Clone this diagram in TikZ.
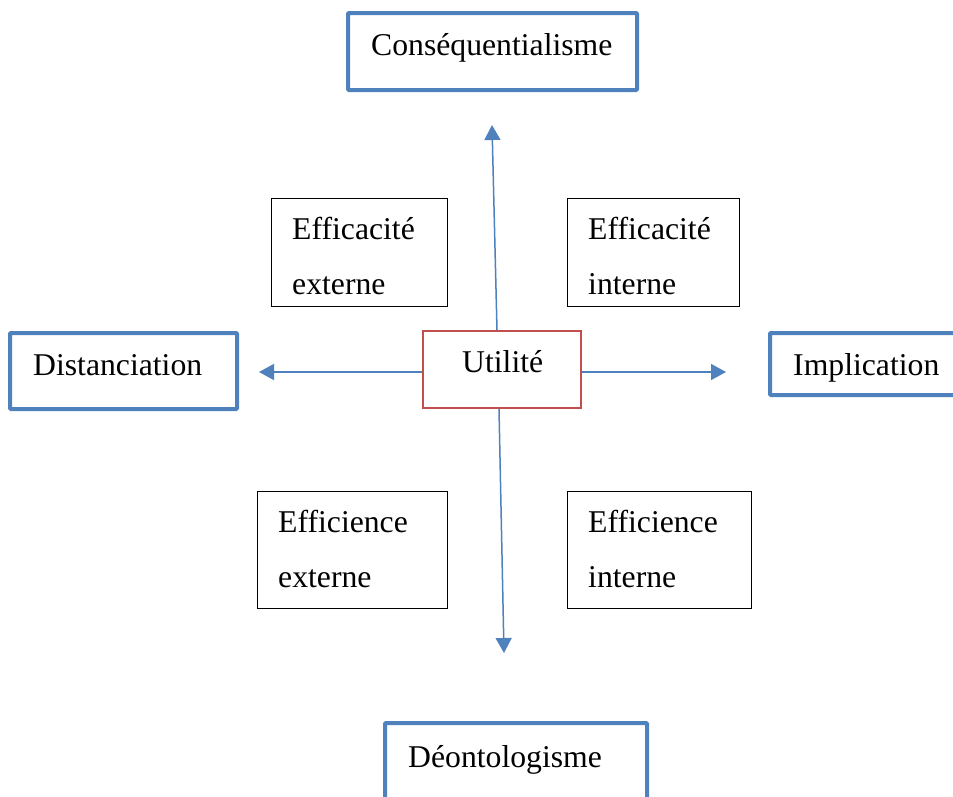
\documentclass[tikz,border=0pt]{standalone}
\usepackage{fontspec}
\setmainfont{Liberation Serif}
\usetikzlibrary{arrows.meta}
\definecolor{boxblue}{HTML}{4F81BD}
\definecolor{boxred}{HTML}{C0504D}
\tikzset{
  bigbox/.style={draw=boxblue, line width=4pt, rectangle, inner sep=0pt, rounded corners=1pt},
  redbox/.style={draw=boxred, line width=2pt, rectangle, inner sep=0pt},
  smallbox/.style={draw=black, line width=1pt, rectangle, inner sep=0pt},
  lbl/.style={anchor=base west, inner sep=0pt, font=\fontsize{31.7}{38}\selectfont},
  arr/.style={draw=boxblue, line width=1.5pt, -{Triangle[length=15pt,width=16pt]}}
}
\begin{document}
\begin{tikzpicture}[x=1pt,y=-1pt]
\clip (0,0) rectangle (953,796);
\fill[white] (0,0) rectangle (953,796);
% boxes
\node[bigbox, minimum width=289, minimum height=77] (cons) at (492.5,51.5) {};
\node[bigbox, minimum width=227, minimum height=76] (dist) at (123.5,371) {};
\node[bigbox, minimum width=192, minimum height=62] (impl) at (866,364) {};
\node[bigbox, minimum width=262, minimum height=84] (deon) at (516,765) {};
\node[redbox, minimum width=158, minimum height=77] (util) at (502,369.5) {};
\node[smallbox, minimum width=176, minimum height=108] (eaext) at (359,252) {};
\node[smallbox, minimum width=172, minimum height=108] (eaint) at (653,252) {};
\node[smallbox, minimum width=190, minimum height=117] (eeext) at (352,549.5) {};
\node[smallbox, minimum width=184, minimum height=117] (eeint) at (659,549.5) {};
% texts
\node[lbl] (tcons) at (371,55) {Conséquentialisme};
\node[lbl] (tdist) at (33,375) {Distanciation};
\node[lbl] (timpl) at (793,375) {Implication};
\node[lbl] (tdeon) at (408,767) {Déontologisme};
\node[lbl] (tutil) at (462,372) {Utilité};
\node[lbl] (teaext1) at (292,239) {Efficacité};
\node[lbl] (teaext2) at (292,294) {externe};
\node[lbl] (teaint1) at (588,239) {Efficacité};
\node[lbl] (teaint2) at (588,294) {interne};
\node[lbl] (teeext1) at (278,532) {Efficience};
\node[lbl] (teeext2) at (278,587) {externe};
\node[lbl] (teeint1) at (588,532) {Efficience};
\node[lbl] (teeint2) at (588,587) {interne};
% arrow ends
\coordinate (upend) at (492,125);
\coordinate (downend) at (504,653);
\coordinate (leftend) at (259,372);
\coordinate (rightend) at (726,372);
\draw[arr] ([xshift=-5pt]util.north) -- (upend);
\draw[arr] ([xshift=-3pt]util.south) -- (downend);
\draw[arr] ([yshift=-2.5pt]util.west) -- (leftend);
\draw[arr] ([yshift=-2.5pt]util.east) -- (rightend);
\end{tikzpicture}
\end{document}
